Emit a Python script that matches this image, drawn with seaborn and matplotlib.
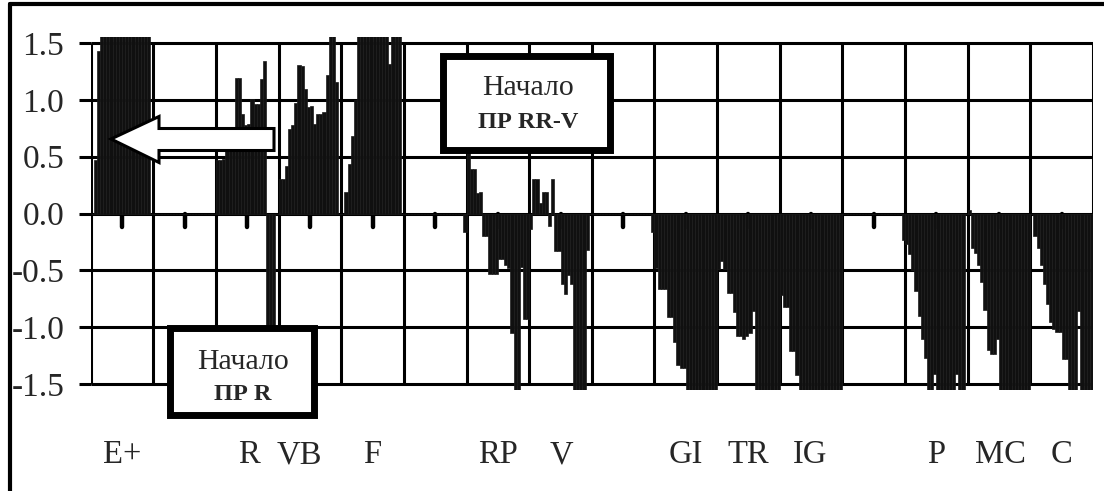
import numpy as np
import pandas as pd
import seaborn as sns
import matplotlib.pyplot as plt
import matplotlib.transforms as mtransforms
from matplotlib.patches import Rectangle, Polygon
from matplotlib.lines import Line2D

# -----------------------------------------------
# Data: bar values per slot, grouped by cluster (start slot, values)
# values beyond +-1.5 are cut off by the axis
# -----------------------------------------------
n_slots = 320

e_plus_start = 1
e_plus_vals = [0.47, 1.43, 1.90, 2.10, 1.80, 2.30, 2.00, 1.70, 2.20,
               1.95, 2.40, 1.85, 2.05, 1.75, 2.20, 1.90, 1.80, 1.70]

r_start = 40
r_vals = [0.47, 0.47, 0.48, 0.60, 0.62, 0.62, 1.19, 1.19, 0.88, 0.78,
          0.79, 1.01, 0.96, 0.96, 1.18, 1.34, -1.30, -1.25, -1.28]

vb_start = 60
vb_vals = [0.30, 0.30, 0.42, 0.74, 0.78, 0.97, 1.31, 1.30, 1.10, 0.94,
           0.95, 0.79, 0.88, 0.88, 0.89, 1.22, 1.65, 1.58, 1.16]

f_start = 81
f_vals = [0.19, 0.44, 0.68, 1.00, 1.70, 1.90, 2.20, 1.80, 2.00, 2.30,
          1.75, 2.10, 1.85, 1.95, 1.32, 1.80, 2.00, 1.70]

rp_start = 119
rp_vals = [-0.16, 0.65, 0.39, 0.39, 0.18, 0.19, -0.20, -0.20, -0.53, -0.53,
           -0.53, -0.40, -0.40, -0.45, -0.48, -1.05, -1.60, -1.60, -0.47,
           -0.93, -0.93, -0.14]

v_start = 141
v_vals = [0.30, 0.30, 0.09, 0.19, 0.19, -0.11, 0.30, -0.33, -0.33, -0.62,
          -0.71, -0.54, -0.62, -1.70, -1.90, -1.80, -1.60, -0.32]

gi_start = 179
gi_vals = [-0.16, -0.48, -0.66, -0.66, -0.66, -0.91, -0.91, -1.13, -1.33,
           -1.36, -1.36, -1.70, -1.90, -2.10, -1.80, -2.00, -1.75, -2.20,
           -1.85, -1.95, -1.70]

tr_start = 200
tr_vals = [-0.49, -0.42, -0.49, -0.70, -0.70, -0.87, -1.08, -1.08, -1.10,
           -1.08, -1.05, -0.86, -1.70, -1.90, -2.00, -1.80, -2.10, -1.75,
           -1.95, -1.65]

ig_start = 220
ig_vals = [-0.72, -0.82, -0.82, -1.21, -1.21, -1.42, -1.70, -1.90, -2.10,
           -1.80, -2.00, -1.75, -2.20, -1.85, -1.95, -1.70, -2.05, -1.80,
           -1.90, -1.65]

p_start = 259
p_vals = [-0.23, -0.27, -0.36, -0.50, -0.68, -0.90, -1.10, -1.27, -1.70,
          -1.90, -1.41, -2.00, -1.80, -2.10, -1.75, -1.95, -1.85, -1.41,
          -1.90, -1.70]

mc_start = 280
mc_vals = [0.03, -0.30, -0.35, -0.45, -0.60, -0.85, -1.20, -1.24, -1.24,
           -1.10, -1.70, -1.90, -2.10, -1.80, -2.00, -1.75, -2.20, -1.85,
           -1.95, -1.70]

c_start = 301
c_vals = [-0.20, -0.30, -0.45, -0.62, -0.80, -0.95, -1.02, -1.04, -1.04,
          -1.28, -1.28, -1.70, -1.90, -2.00, -0.86, -1.80, -2.10, -1.75,
          -1.65]

group_labels = ['E+', 'R', 'VB', 'F', 'RP', 'V', 'GI', 'TR', 'IG', 'P', 'MC', 'C']
group_label_pos = [9.5, 49.9, 66.1, 89.4, 129.5, 149.9, 189.5, 209.5, 229.3, 269.5, 289.9, 309.3]

y_ticks = [1.5, 1.0, 0.5, 0.0, -0.5, -1.0, -1.5]
y_tick_labels = ['1.5', '1.0', '0.5', '0.0', '-0.5', '-1.0', '-1.5']

values = np.zeros(n_slots)
for start, vals in [(e_plus_start, e_plus_vals), (r_start, r_vals), (vb_start, vb_vals),
                    (f_start, f_vals), (rp_start, rp_vals), (v_start, v_vals),
                    (gi_start, gi_vals), (tr_start, tr_vals), (ig_start, ig_vals),
                    (p_start, p_vals), (mc_start, mc_vals), (c_start, c_vals)]:
    values[start:start + len(vals)] = vals

data = pd.DataFrame({'slot': np.arange(n_slots), 'value': values})

# -----------------------------------------------
# Plot
# -----------------------------------------------
sns.set_style('white')
plt.rcParams['font.family'] = ['Liberation Serif', 'DejaVu Serif']

W, H = 1104, 491
fig = plt.figure(figsize=(W / 100, H / 100), dpi=100)
fig.patch.set_facecolor('white')
ax = fig.add_axes([90.7 / W, 1 - 389.7 / H, 1002.3 / W, 352.3 / H])

sns.barplot(data=data, x='slot', y='value', order=list(range(n_slots)), color='#101010',
            saturation=1, width=1.0, errorbar=None, linewidth=0.5, edgecolor='#1c1c1c',
            ax=ax, zorder=2)

ax.set_xlim(-0.5, n_slots - 0.5)
ax.set_ylim(-1.55, 1.55)
for s in ax.spines.values():
    s.set_visible(False)

# grid (plot frame in the original is made of the grid lines)
ax.hlines(y_ticks, -0.5, n_slots - 0.5, color='black', lw=2.2, zorder=0.5)
ax.vlines(np.arange(-0.5, n_slots, 20), -1.5, 1.5, color='black', lw=2.2, zorder=0.5)
ax.vlines(np.arange(9.5, n_slots, 20), 0, -0.115, color='black', lw=3.2,
          capstyle='round', zorder=0.5)

ax.set_xticks([])
ax.set_xlabel('')
ax.set_ylabel('')
ax.set_yticks(y_ticks)
ax.set_yticklabels(y_tick_labels, fontsize=24)
ax.tick_params(axis='y', length=8.6, width=2.2, pad=10.5, color='black', left=True)

trans = mtransforms.blended_transform_factory(ax.transData, fig.transFigure)
for lab, pos in zip(group_labels, group_label_pos):
    ax.text(pos, 1 - 455 / H, lab, transform=trans, ha='center', va='center', fontsize=23.5)

def px(x, y):
    return (x / W, 1 - y / H)

# outer frame (left and top edges visible)
fig.add_artist(Line2D([9.5 / W, 9.5 / W], [1 - 4 / H, 0], color='black', lw=3))
fig.add_artist(Line2D([9.5 / W, 1], [1 - 4 / H, 1 - 4 / H], color='black', lw=3))

# arrow
arrow_pts = [px(111, 139), px(159, 116.5), px(159, 128.5), px(274, 128.5),
             px(274, 150.5), px(159, 150.5), px(159, 162.5)]
fig.add_artist(Polygon(arrow_pts, closed=True, transform=fig.transFigure, facecolor='white',
                       edgecolor='black', lw=2.2, joinstyle='miter', zorder=5))

# callout boxes
for (x0, y0, x1, y1), cx, ty1, ty2, line2 in [((442.5, 55.5, 609.5, 149.5), 528, 88, 123, 'ПР RR-V'),
                                             ((169.5, 327.5, 313.5, 414.5), 243, 362, 395, 'ПР R')]:
    fig.add_artist(Rectangle(px(x0, y1), (x1 - x0) / W, (y1 - y0) / H, transform=fig.transFigure,
                             facecolor='white', edgecolor='black', lw=5, zorder=5))
    fig.text(cx / W, 1 - ty1 / H, 'Начало', ha='center', va='center', fontsize=21.5, zorder=6)
    fig.text(cx / W, 1 - ty2 / H, line2, ha='center', va='center', fontsize=17.5,
             fontweight='bold', zorder=6)

fig.savefig('out.png', dpi=100)
